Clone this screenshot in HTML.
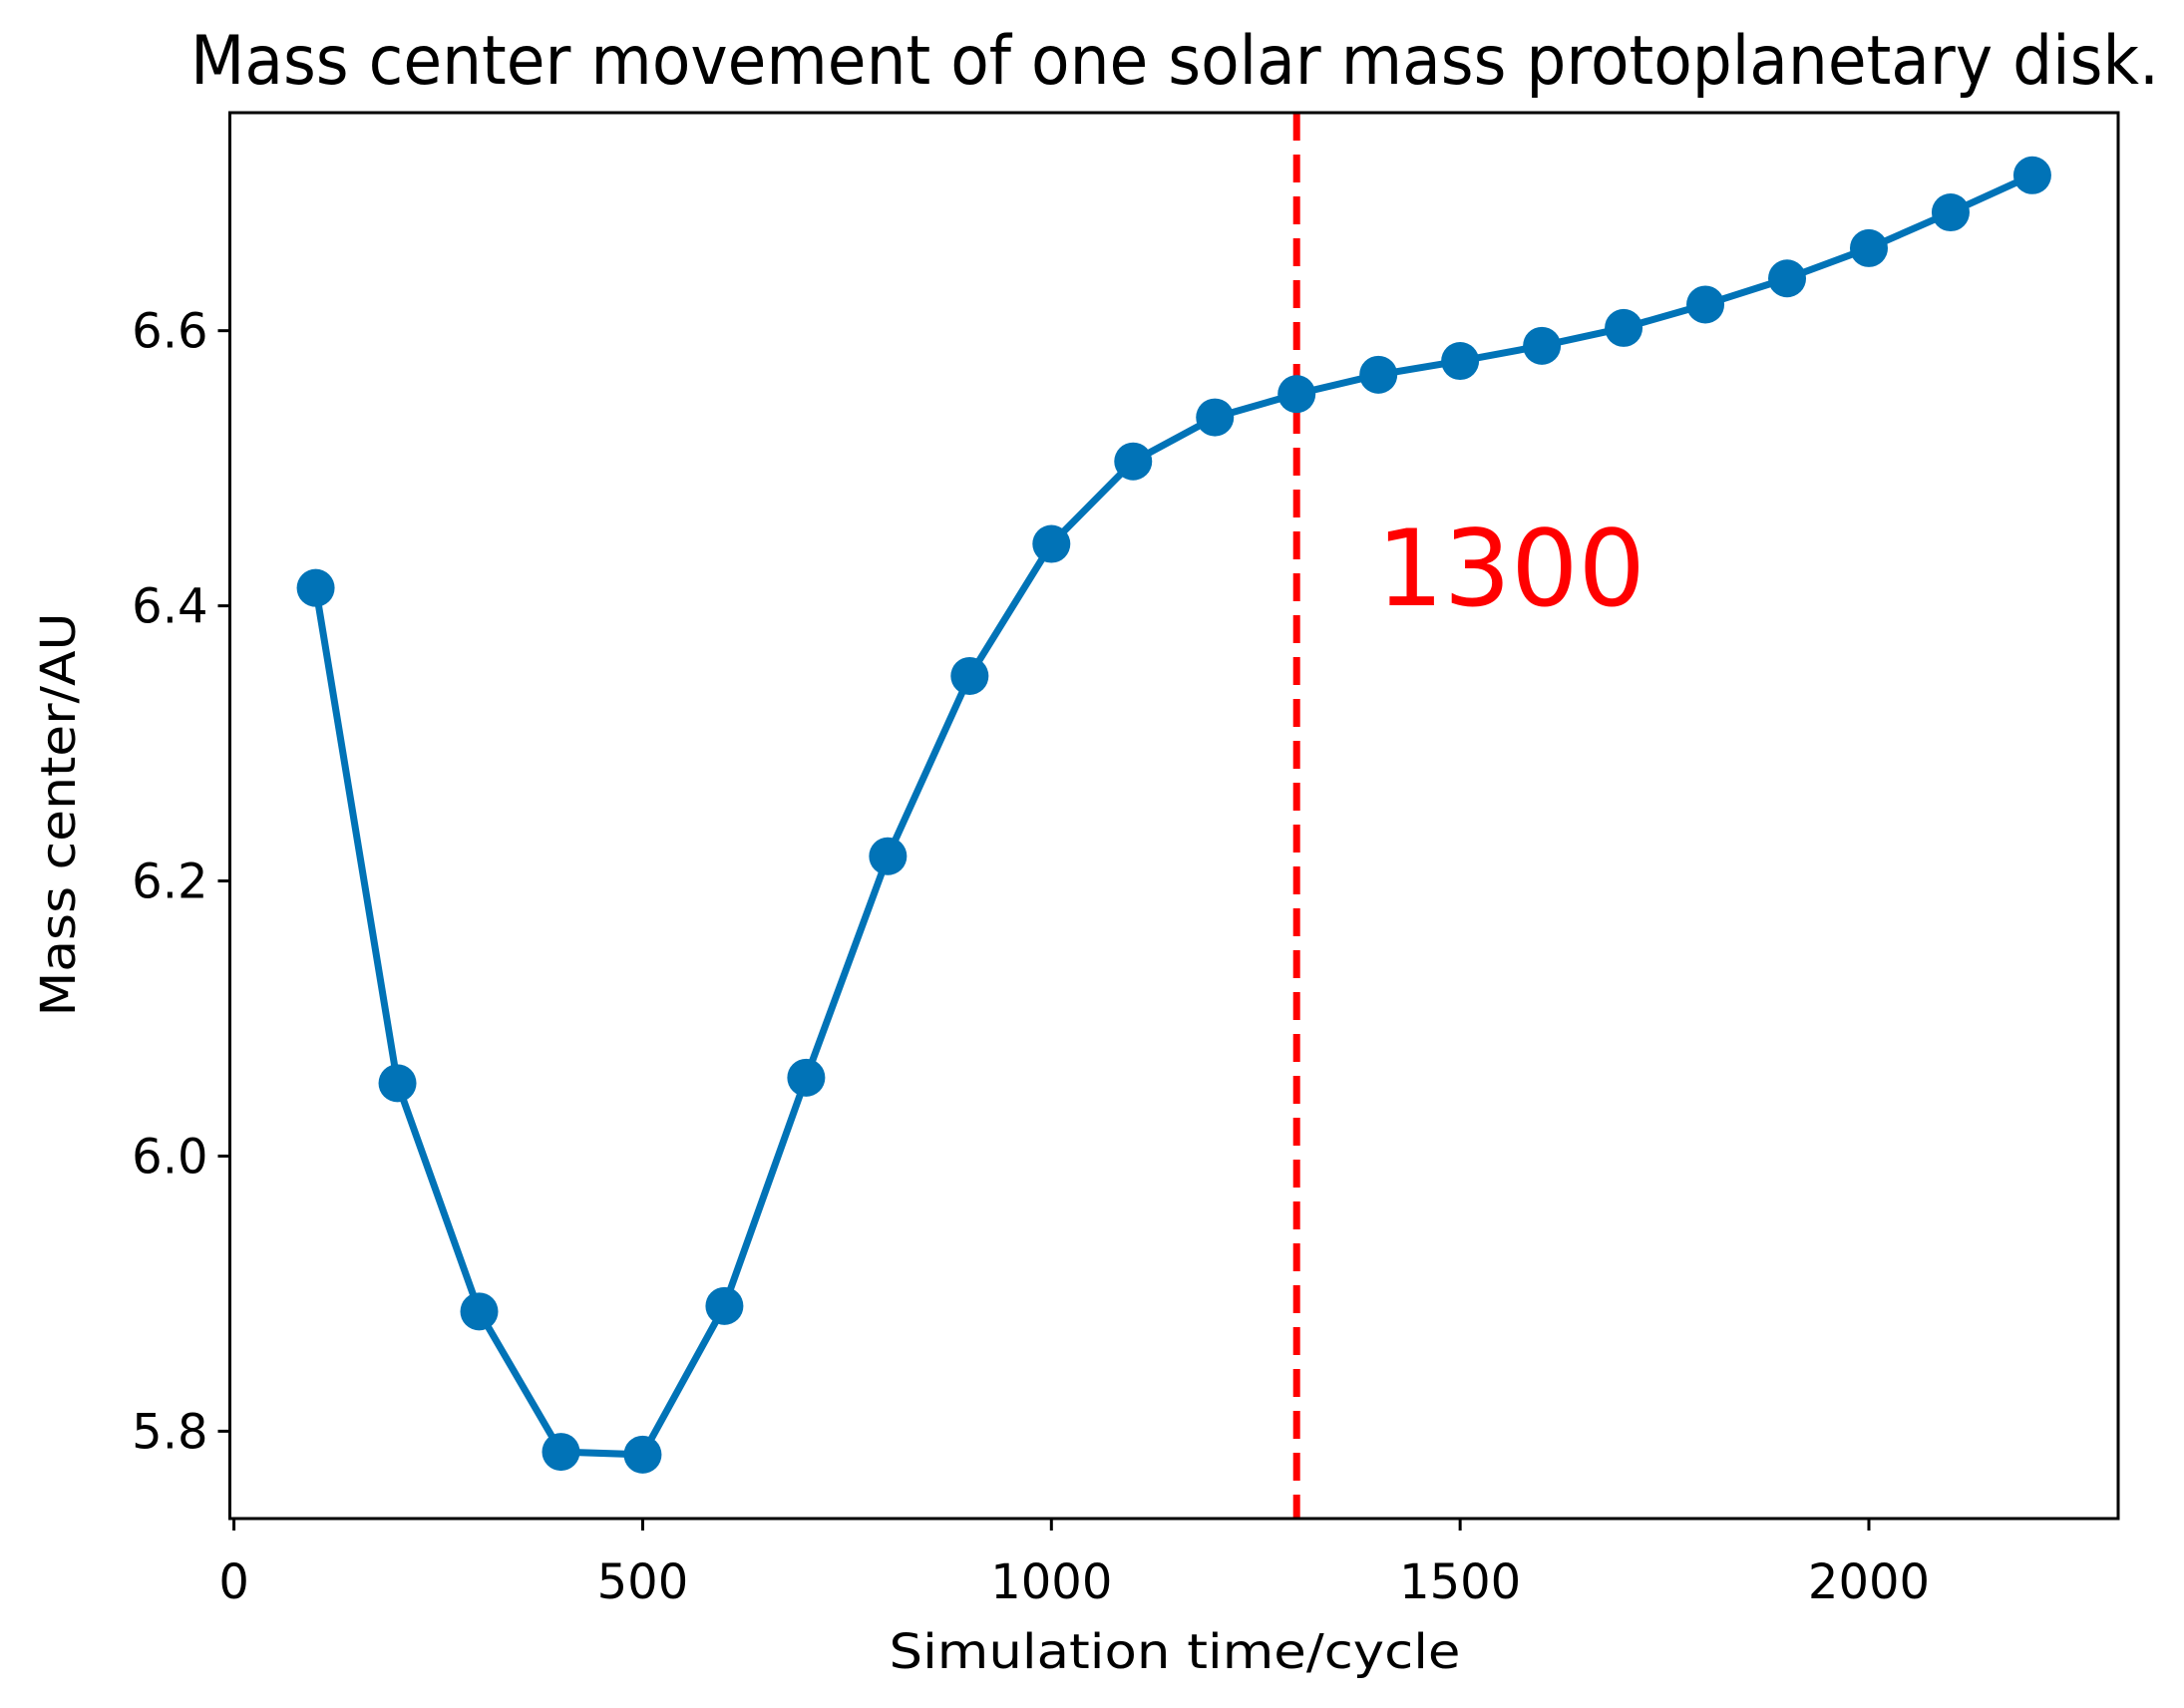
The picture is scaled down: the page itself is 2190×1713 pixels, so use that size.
<!DOCTYPE html>
<html><head><meta charset="utf-8"><style>
html,body{margin:0;padding:0;background:#fff;}
svg{display:block;font-family:"DejaVu Sans","Liberation Sans",sans-serif;}
</style></head><body>
<svg id="chart" width="2190" height="1713" viewBox="0 0 2190 1713">
<text x="1178" y="84" font-size="68" text-anchor="middle" textLength="1974" lengthAdjust="spacingAndGlyphs">Mass center movement of one solar mass protoplanetary disk.</text>
<g id="plot"></g>
<text x="1178" y="1673" font-size="48" text-anchor="middle" textLength="573" lengthAdjust="spacingAndGlyphs">Simulation time/cycle</text>
<text x="0" y="0" font-size="48" text-anchor="middle" transform="translate(75,817) rotate(-90)" textLength="405" lengthAdjust="spacingAndGlyphs">Mass center/AU</text>
</svg>
<script>
const times = [100,200,300,400,500,600,700,800,900,1000,1100,1200,1300,1400,1500,1600,1700,1800,1900,2000,2100,2200];
const massCenter = [6.413,6.053,5.887,5.785,5.783,5.891,6.057,6.218,6.349,6.445,6.505,6.537,6.554,6.568,6.578,6.589,6.602,6.619,6.638,6.660,6.686,6.713];
const xTicks = [0,500,1000,1500,2000];
const yTicks = [5.8,6.0,6.2,6.4,6.6];
const markerTime = 1300;
const markerLabel = "1300";

const L=230.5,R=2124,T=113,B=1523;
const xMin=-5,xMax=2305,yMin=5.7365,yMax=6.7585;
const X=v=>L+(v-xMin)/(xMax-xMin)*(R-L);
const Y=v=>B-(v-yMin)/(yMax-yMin)*(B-T);
const NS="http://www.w3.org/2000/svg";
const g=document.getElementById('plot');
function mk(tag,attrs){const e=document.createElementNS(NS,tag);for(const k in attrs)e.setAttribute(k,attrs[k]);g.appendChild(e);return e;}

let vl=mk('line',{x1:X(markerTime),x2:X(markerTime),y1:T,y2:B,stroke:'#ff0000','stroke-width':7,'stroke-dasharray':'28 14'});


let vt=mk('text',{x:X(markerTime)+80,y:607,'font-size':106,fill:'#ff0000'});
vt.textContent=markerLabel;



let pts=times.map((t,i)=>X(t)+','+Y(massCenter[i])).join(' ');
let pl=mk('polyline',{points:pts,fill:'none',stroke:'#0173b7','stroke-width':7,'stroke-linejoin':'round'});


times.forEach((t,i)=>{
  const c=mk('circle',{cx:X(t),cy:Y(massCenter[i]),r:19,fill:'#0173b7'});
  
  
});

let fr=mk('rect',{x:L,y:T,width:R-L,height:B-T,fill:'none',stroke:'#000','stroke-width':3});



xTicks.forEach(v=>{
  const tk=mk('line',{x1:X(v),x2:X(v),y1:B,y2:B+12,stroke:'#000','stroke-width':3});
  
  
  const tl=mk('text',{x:X(v),y:1603,'font-size':48,'text-anchor':'middle'});
  tl.textContent=String(v);
  
  
});
yTicks.forEach(v=>{
  const tk=mk('line',{x1:L-12,x2:L,y1:Y(v),y2:Y(v),stroke:'#000','stroke-width':3});
  
  
  const tl=mk('text',{x:L-22,y:Y(v)+17,'font-size':48,'text-anchor':'end'});
  tl.textContent=v.toFixed(1);
  
  
});
</script>
</body></html>
